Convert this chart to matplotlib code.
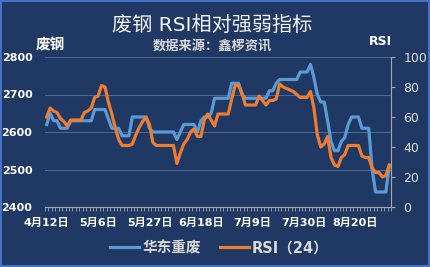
import numpy as np
import matplotlib
matplotlib.use('Agg')
import matplotlib.pyplot as plt
from matplotlib.ticker import FixedLocator, MultipleLocator

plt.rcParams['font.family'] = ['DejaVu Sans', 'Noto Sans CJK SC']

BG = '#1F3864'
BLUE = '#5B9BD5'
ORANGE = '#ED7D31'

# x tick labels, one every 15 trading days
date_labels = ['4月12日', '5月6日', '5月27日', '6月18日', '7月9日', '7月30日', '8月20日']

# 华东重废 price (left axis), one value per trading day
price = [
    2620, 2650, 2630, 2630, 2610, 2610, 2610, 2630, 2630, 2630,
    2630, 2630, 2630, 2630, 2660, 2660, 2660, 2660, 2635, 2610,
    2610, 2610, 2590, 2590, 2590, 2640, 2640, 2640, 2640, 2640,
    2610, 2600, 2600, 2600, 2600, 2600, 2600, 2600, 2580, 2600,
    2620, 2620, 2620, 2620, 2600, 2630, 2640, 2640, 2650, 2690,
    2690, 2690, 2690, 2690, 2730, 2730, 2730, 2700, 2690, 2690,
    2690, 2690, 2690, 2690, 2690, 2710, 2710, 2730, 2740, 2740,
    2740, 2740, 2740, 2740, 2760, 2760, 2760, 2780, 2745, 2700,
    2680, 2680, 2630, 2575, 2550, 2550, 2575, 2585, 2620, 2640,
    2640, 2640, 2610, 2610, 2610, 2500, 2440, 2440, 2440, 2440,
    2510,
]

# RSI(24) (right axis)
rsi = [
    60, 66, 64, 63, 59, 57, 54, 58, 58, 58,
    58, 63, 64, 66, 73, 74, 81, 80, 70, 62,
    53, 45, 41, 41, 41, 42, 48, 53, 57, 60,
    55, 43, 41, 41, 41, 41, 41, 41, 29, 36,
    42, 45, 50, 52, 47, 47, 58, 62, 58, 54,
    62, 62, 62, 62, 72, 81, 81, 76, 68, 68,
    68, 68, 74, 71, 68, 71, 71, 72, 82, 80,
    79, 78, 77, 75, 73, 73, 73, 77, 66, 48,
    40, 42, 47, 33, 28, 27, 33, 35, 41, 41,
    41, 41, 34, 33, 33, 26, 23, 23, 20, 21,
    28,
]


def main():
    x = np.arange(len(price))

    fig = plt.figure(figsize=(4.3, 2.67), dpi=100)
    fig.patch.set_facecolor(BG)
    fig.patch.set_edgecolor('#4472C4')
    fig.patch.set_linewidth(1.5)

    ax = fig.add_axes([45 / 430, 1 - 207 / 267, 346 / 430, 150 / 267])
    ax.set_facecolor(BG)
    ax.plot(x, price, color=BLUE, lw=2.3, solid_joinstyle='round', zorder=3)
    ax.set_ylim(2400, 2800)
    ax.set_xlim(-0.5, len(price) - 0.5)
    ax.set_yticks([2400, 2500, 2600, 2700, 2800])
    ax.grid(axis='y', color='#4A6794', lw=0.8)
    ax.set_axisbelow(True)
    ax.tick_params(axis='y', length=0, pad=9, labelsize=8, labelcolor='white')
    for lab in ax.get_yticklabels():
        lab.set_fontweight('bold')

    ax.set_xticks(x[::15][:len(date_labels)])
    ax.set_xticklabels(date_labels, fontsize=8, fontweight='bold', color='white')
    ax.xaxis.set_minor_locator(FixedLocator(np.arange(-0.5, len(price), 1)))
    ax.tick_params(axis='x', which='major', length=0, pad=8)
    ax.tick_params(axis='x', which='minor', length=3, color='#A6A6A6', width=0.6)

    for s in ['left', 'top', 'right']:
        ax.spines[s].set_visible(False)
    ax.spines['bottom'].set_color('#A6A6A6')

    ax2 = ax.twinx()
    ax2.plot(x, rsi, color=ORANGE, lw=2.3, solid_joinstyle='round', zorder=3)
    ax2.set_ylim(0, 100)
    ax2.yaxis.set_major_locator(MultipleLocator(20))
    ax2.tick_params(axis='y', length=3, color='#A6A6A6', pad=6, labelsize=9,
                    labelcolor='#E0E0E0')
    for s in ['left', 'top', 'bottom']:
        ax2.spines[s].set_visible(False)
    ax2.spines['right'].set_color('#A6A6A6')

    fig.text(0.494, 1 - 25 / 267, '废钢 RSI相对强弱指标', ha='center', va='center',
             fontsize=14.5, color='#F2F2F2')
    fig.text(0.494, 1 - 46 / 267, '数据来源：鑫椤资讯', ha='center', va='center',
             fontsize=9.5, fontweight='bold', color='#D9D9D9')
    fig.text(50 / 430, 1 - 45 / 267, '废钢', ha='center', va='center',
             fontsize=10.5, fontweight='bold', color='white')
    fig.text(380 / 430, 1 - 42 / 267, 'RSI', ha='center', va='center',
             fontsize=9, fontweight='bold', color='white')

    # legend
    fig.legend(handles=[ax.lines[0], ax2.lines[0]], labels=['华东重废', 'RSI（24）'],
               loc='center', bbox_to_anchor=(0.51, 1 - 248 / 267), ncol=2,
               frameon=False, handlelength=2.0, handletextpad=0.2,
               columnspacing=1.3, prop={'weight': 'bold', 'size': 10.5},
               labelcolor='#D9D9D9')

    fig.savefig('out.png', dpi=100, facecolor=BG, edgecolor='#4472C4')


if __name__ == '__main__':
    main()
